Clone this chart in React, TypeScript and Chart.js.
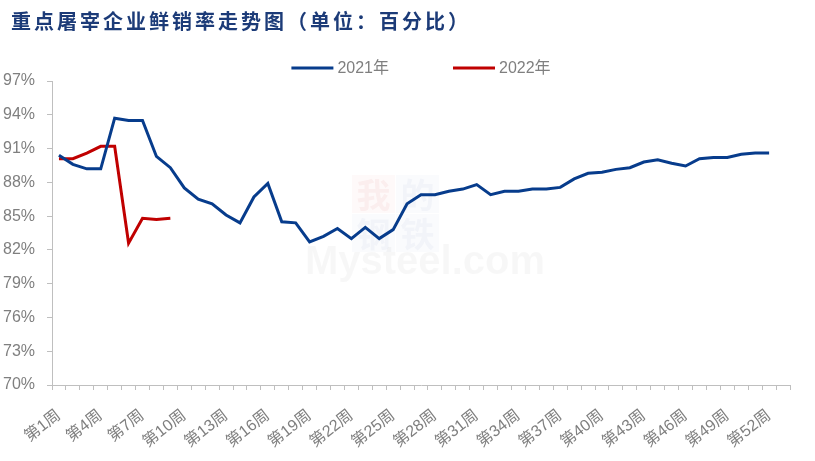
import React, { useEffect, useRef } from 'react';
import { Chart, registerables } from 'chart.js';

Chart.register(...registerables);

const TITLE = '重点屠宰企业鲜销率走势图（单位：百分比）';

const weeks = [
  '第1周', '第2周', '第3周', '第4周', '第5周', '第6周', '第7周', '第8周', '第9周', '第10周',
  '第11周', '第12周', '第13周', '第14周', '第15周', '第16周', '第17周', '第18周', '第19周', '第20周',
  '第21周', '第22周', '第23周', '第24周', '第25周', '第26周', '第27周', '第28周', '第29周', '第30周',
  '第31周', '第32周', '第33周', '第34周', '第35周', '第36周', '第37周', '第38周', '第39周', '第40周',
  '第41周', '第42周', '第43周', '第44周', '第45周', '第46周', '第47周', '第48周', '第49周', '第50周',
  '第51周', '第52周', '第53周',
];

const seriesNames = ['2021年', '2022年'];

const values2021 = [
  90.4, 89.6, 89.2, 89.2, 93.7, 93.5, 93.5, 90.3, 89.3, 87.5,
  86.5, 86.1, 85.1, 84.4, 86.7, 87.9, 84.5, 84.4, 82.7, 83.2,
  83.9, 83.0, 84.0, 83.0, 83.8, 86.1, 86.9, 86.9, 87.2, 87.4,
  87.8, 86.9, 87.2, 87.2, 87.4, 87.4, 87.55, 88.3, 88.8, 88.9,
  89.15, 89.3, 89.8, 90.0, 89.7, 89.45, 90.1, 90.2, 90.2, 90.5,
  90.6, 90.6, null,
];

const values2022 = [90.1, 90.1, 90.6, 91.2, 91.2, 82.6, 84.8, 84.7, 84.8];

const yMin = 70;
const yMax = 97;
const yStep = 3;

const BLUE = '#073C8C';
const RED = '#C00000';
const GREY_TEXT = '#7F7F7F';
const AXIS_GREY = '#BFBFBF';
const FONT = '"Liberation Sans", "Noto Sans CJK SC", sans-serif';

const overlayPlugin = {
  id: 'overlay',
  beforeDatasetsDraw(chart: any) {
    const ctx = chart.ctx;
    ctx.save();
    // faint watermark
    const boxes = [
      { ch: '我', x: 352, y: 175, c: 'rgba(220,60,60,0.03)', t: 'rgba(200,40,40,0.05)' },
      { ch: '的', x: 396, y: 175, c: 'rgba(60,90,170,0.025)', t: 'rgba(60,90,170,0.045)' },
      { ch: '钢', x: 352, y: 214, c: 'rgba(60,90,170,0.025)', t: 'rgba(60,90,170,0.045)' },
      { ch: '铁', x: 396, y: 214, c: 'rgba(60,90,170,0.025)', t: 'rgba(60,90,170,0.045)' },
    ];
    ctx.font = 'bold 34px "Noto Sans CJK SC", sans-serif';
    ctx.textAlign = 'center';
    ctx.textBaseline = 'middle';
    for (const b of boxes) {
      ctx.fillStyle = b.c;
      ctx.fillRect(b.x, b.y, 43, 38);
      ctx.fillStyle = b.t;
      ctx.fillText(b.ch, b.x + 21.5, b.y + 20);
    }
    ctx.font = 'bold 40px "Liberation Sans", sans-serif';
    ctx.fillStyle = 'rgba(0,0,0,0.03)';
    ctx.fillText('Mysteel.com', 425, 263);
    ctx.restore();
  },
  afterDraw(chart: any) {
    const ctx = chart.ctx;
    ctx.save();
    // title
    ctx.font = 'bold 20px "Noto Sans CJK SC", sans-serif';
    (ctx as any).letterSpacing = '3px';
    ctx.fillStyle = '#1C3B78';
    ctx.textAlign = 'left';
    ctx.textBaseline = 'middle';
    ctx.fillText(TITLE, 11, 21);
    (ctx as any).letterSpacing = '0px';
    // legend
    ctx.font = '16px ' + FONT;
    const ds = chart.data.datasets;
    const lineLen = 42;
    const gapText = 4;
    const gapItem = 64;
    const widths = ds.map((d: any) => lineLen + gapText + ctx.measureText(d.label).width);
    const total = widths.reduce((a: number, b: number) => a + b, 0) + gapItem * (ds.length - 1);
    const ca = chart.chartArea;
    let x = (ca.left + ca.right) / 2 - total / 2;
    const y = 68;
    ds.forEach((d: any, i: number) => {
      ctx.strokeStyle = d.borderColor;
      ctx.lineWidth = 3;
      ctx.beginPath();
      ctx.moveTo(x, y);
      ctx.lineTo(x + lineLen, y);
      ctx.stroke();
      ctx.fillStyle = GREY_TEXT;
      ctx.textAlign = 'left';
      ctx.textBaseline = 'middle';
      ctx.fillText(d.label, x + lineLen + gapText, y + 1);
      x += widths[i] + gapItem;
    });
    ctx.restore();
  },
};

export default function App() {
  const canvasRef = useRef<HTMLCanvasElement | null>(null);

  useEffect(() => {
    if (!canvasRef.current) return;
    const chart = new Chart(canvasRef.current, {
      type: 'line',
      data: {
        labels: weeks,
        datasets: [
          {
            label: seriesNames[0],
            data: values2021,
            borderColor: BLUE,
            backgroundColor: BLUE,
            borderWidth: 3,
            pointRadius: 0,
            pointHoverRadius: 0,
            tension: 0,
            fill: false,
          },
          {
            label: seriesNames[1],
            data: values2022,
            borderColor: RED,
            backgroundColor: RED,
            borderWidth: 3,
            pointRadius: 0,
            pointHoverRadius: 0,
            tension: 0,
            fill: false,
          },
        ],
      },
      options: {
        responsive: false,
        animation: false,
        devicePixelRatio: 1,
        layout: { padding: { top: 81, left: 0, right: 25, bottom: 0 } },
        plugins: {
          legend: { display: false },
          title: { display: false },
          tooltip: { enabled: false },
        },
        scales: {
          x: {
            type: 'category',
            offset: true,
            grid: {
              display: true,
              offset: true,
              drawOnChartArea: false,
              drawTicks: true,
              tickLength: 5,
              color: AXIS_GREY,
            },
            border: { display: true, color: AXIS_GREY, width: 1 },
            ticks: {
              autoSkip: false,
              minRotation: 38,
              maxRotation: 38,
              padding: 16,
              color: GREY_TEXT,
              font: { family: FONT, size: 16 },
              callback: (_v: any, idx: number) => (idx % 3 === 0 ? weeks[idx] : ''),
            },
            afterFit: (scale: any) => {
              scale.height = 76;
            },
          },
          y: {
            min: yMin,
            max: yMax,
            grid: {
              display: true,
              drawOnChartArea: false,
              drawTicks: true,
              tickLength: 5,
              color: AXIS_GREY,
            },
            border: { display: true, color: AXIS_GREY, width: 1 },
            ticks: {
              stepSize: yStep,
              padding: 12,
              color: GREY_TEXT,
              font: { family: FONT, size: 16 },
              callback: (v: any) => v + '%',
            },
            afterFit: (scale: any) => {
              scale.width = 52;
            },
          },
        },
      },
      plugins: [overlayPlugin],
    });
    return () => chart.destroy();
  }, []);

  return (
    <div style={{ position: 'fixed', left: 0, top: 0, width: 815, height: 461, background: '#fff' }}>
      <canvas ref={canvasRef} width={815} height={461} style={{ display: 'block' }} />
    </div>
  );
}
